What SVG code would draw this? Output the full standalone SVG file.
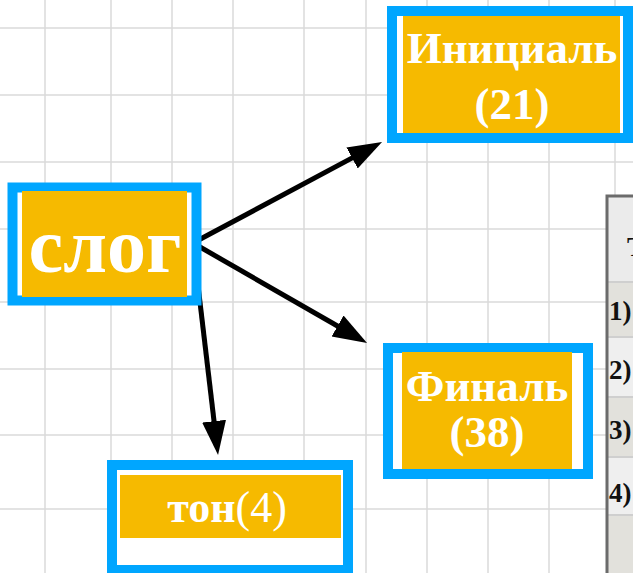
<svg xmlns="http://www.w3.org/2000/svg" width="633" height="573" viewBox="0 0 633 573">
<style>
.grid line{stroke:#dadada;stroke-width:1.5}
.frame{fill:#ffffff;stroke:#00a6ff;stroke-width:10}
.fill{fill:#f6ba00}
.lbl{font-family:"Liberation Serif","Times New Roman",serif;font-weight:bold;fill:#ffffff;text-anchor:middle}
.conn line{stroke:#000000;stroke-width:5;fill:none;marker-end:url(#ah)}
.tt{font-family:"Liberation Serif","Times New Roman",serif;font-weight:bold;fill:#111111;font-size:27px}
</style>
<defs>
<marker id="ah" markerUnits="userSpaceOnUse" viewBox="0 0 36 26" markerWidth="36" markerHeight="26" refX="14" refY="13" orient="auto">
<path d="M0,1 L34,13 L0,25 z" fill="#000000"/>
</marker>
</defs>
<rect width="633" height="573" fill="#ffffff"/>
<g class="grid">
<line x1="45" y1="0" x2="45" y2="573"/>
<line x1="111" y1="0" x2="111" y2="573"/>
<line x1="172" y1="0" x2="172" y2="573"/>
<line x1="233" y1="0" x2="233" y2="573"/>
<line x1="304" y1="0" x2="304" y2="573"/>
<line x1="366" y1="0" x2="366" y2="573"/>
<line x1="427" y1="0" x2="427" y2="573"/>
<line x1="488" y1="0" x2="488" y2="573"/>
<line x1="549" y1="0" x2="549" y2="573"/>
<line x1="615" y1="0" x2="615" y2="573"/>
<line x1="0" y1="28" x2="633" y2="28"/>
<line x1="0" y1="95" x2="633" y2="95"/>
<line x1="0" y1="162" x2="633" y2="162"/>
<line x1="0" y1="229" x2="633" y2="229"/>
<line x1="0" y1="302" x2="633" y2="302"/>
<line x1="0" y1="369" x2="633" y2="369"/>
<line x1="0" y1="435" x2="633" y2="435"/>
<line x1="0" y1="509" x2="633" y2="509"/>
</g>
<g id="table">
<rect x="607" y="196" width="30" height="86" fill="#ebebeb"/>
<rect x="607" y="282" width="30" height="55" fill="#e2e1dc"/>
<rect x="607" y="337" width="30" height="60" fill="#efefef"/>
<rect x="607" y="397" width="30" height="60" fill="#e2e1dc"/>
<rect x="607" y="457" width="30" height="58" fill="#efefef"/>
<rect x="607" y="515" width="30" height="60" fill="#e2e1dc"/>
<g stroke="#cfcfcf" stroke-width="2">
<line x1="607" y1="282" x2="633" y2="282"/>
<line x1="607" y1="337" x2="633" y2="337"/>
<line x1="607" y1="397" x2="633" y2="397"/>
<line x1="607" y1="457" x2="633" y2="457"/>
<line x1="607" y1="515" x2="633" y2="515"/>
</g>
<path d="M607,575 L607,196 L633,196" fill="none" stroke="#6b6b6b" stroke-width="3"/>
<text class="tt" x="627" y="256" font-size="20">Т</text>
<text class="tt" x="609" y="320">1)</text>
<text class="tt" x="609" y="379">2)</text>
<text class="tt" x="609" y="439">3)</text>
<text class="tt" x="609" y="502">4)</text>
</g>
<g class="conn">
<line x1="193" y1="243" x2="364.4" y2="151.4"/>
<line x1="193" y1="243" x2="349.7" y2="333"/>
<line x1="193" y1="243" x2="215.7" y2="435.1"/>
</g>
<g id="slog">
<rect class="frame" x="12.5" y="187.5" width="184" height="113" stroke-width="9"/>
<rect class="fill" x="22" y="191" width="165" height="106"/>
<text class="lbl" x="105" y="272" font-size="78">слог</text>
</g>
<g id="inicial">
<rect class="frame" x="392" y="11" width="236" height="127"/>
<rect class="fill" x="403" y="16" width="217" height="117"/>
<text class="lbl" x="512" y="63" font-size="45">Инициаль</text>
<text class="lbl" x="512" y="119" font-size="45">(21)</text>
</g>
<g id="final">
<rect class="frame" x="388" y="348" width="200" height="126"/>
<rect class="fill" x="402" y="352" width="170" height="117"/>
<text class="lbl" x="487" y="401" font-size="45">Финаль</text>
<text class="lbl" x="487" y="447" font-size="45">(38)</text>
</g>
<g id="ton">
<rect class="frame" x="112" y="465" width="236" height="105"/>
<rect class="fill" x="120" y="475" width="221" height="63"/>
<text class="lbl" x="227" y="522" font-size="44"><tspan>тон</tspan><tspan font-weight="normal">(4)</tspan></text>
</g>
</svg>
